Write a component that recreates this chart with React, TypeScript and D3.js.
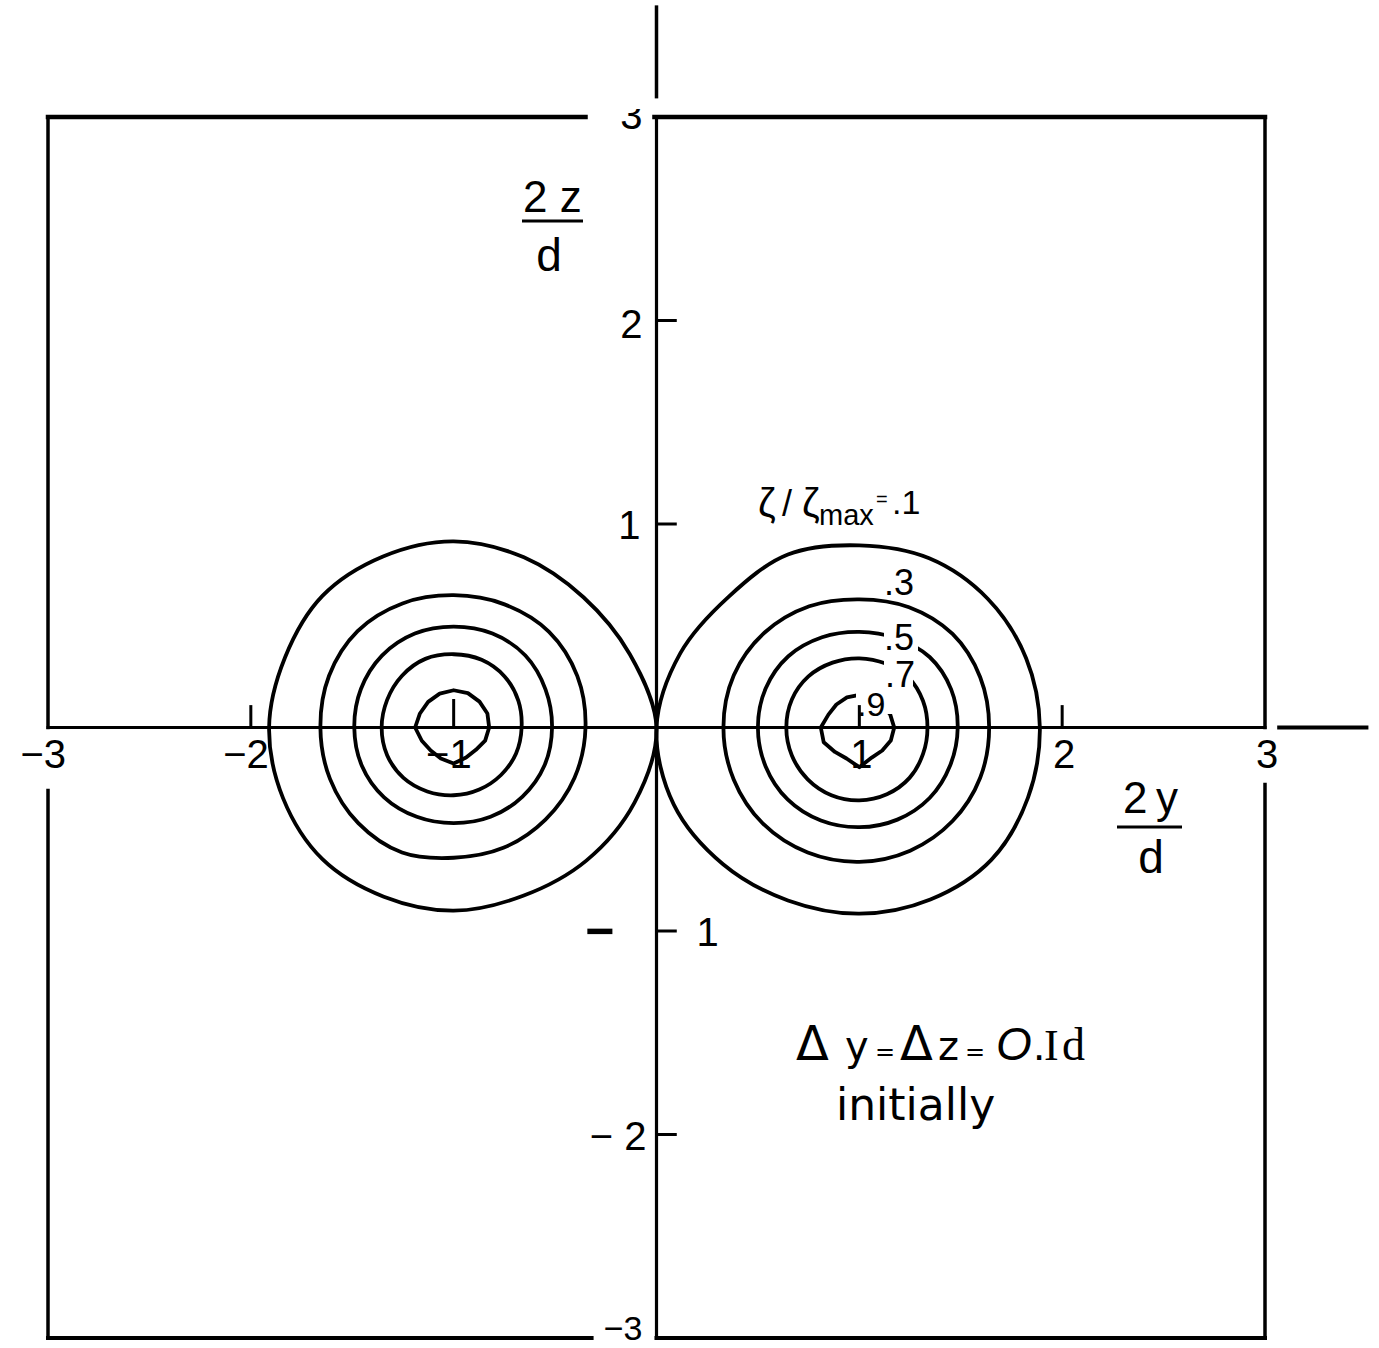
import React from "react";
import * as d3 from "d3";

const W = 1379;
const H = 1348;

// Axis tick values (2y/d along the horizontal, 2z/d along the vertical)
const yTickValues = [-3, -2, -1, 1, 2, 3];
const zTickValues = [-2, -1, 1, 2];

// Contour levels of ζ/ζmax
const contourLevels = [0.1, 0.3, 0.5, 0.7, 0.9];

// Polar sampling angles (degrees, counter-clockwise from +y)
const contourAngles = [0, 22.5, 45, 67.5, 90, 112.5, 135, 157.5, 180, 202.5, 225, 247.5, 270, 292.5, 315, 337.5];

// Vortex centres (2y/d, 2z/d)
const westCentre: [number, number] = [-1, 0];
const eastCentre: [number, number] = [1, 0];

// Contour radii (in units of d/2) around the west vortex, one list per level
const westRadii01 = [1.0, 0.94, 0.905, 0.905, 0.915, 0.91, 0.915, 0.9, 0.91, 0.91, 0.915, 0.9, 0.9, 0.895, 0.925, 0.965];
const westRadii03 = [0.65, 0.66, 0.665, 0.655, 0.65, 0.66, 0.67, 0.665, 0.657, 0.66, 0.665, 0.665, 0.64, 0.64, 0.64, 0.645];
const westRadii05 = [0.485, 0.49, 0.5, 0.5, 0.496, 0.5, 0.5, 0.495, 0.49, 0.49, 0.485, 0.475, 0.47, 0.475, 0.48, 0.485];
const westRadii07 = [0.335, 0.345, 0.355, 0.36, 0.36, 0.365, 0.36, 0.355, 0.355, 0.355, 0.35, 0.34, 0.333, 0.33, 0.33, 0.333];
const westRadii09 = [0.175, 0.18, 0.18, 0.183, 0.183, 0.18, 0.178, 0.18, 0.19, 0.17, 0.16, 0.165, 0.177, 0.16, 0.155, 0.168];

// Contour radii around the east vortex
const eastRadii01 = [0.89, 0.89, 0.895, 0.9, 0.895, 0.92, 0.91, 0.955, 1.0, 0.99, 0.95, 0.92, 0.915, 0.915, 0.92, 0.9];
const eastRadii03 = [0.64, 0.645, 0.65, 0.64, 0.63, 0.645, 0.66, 0.67, 0.67, 0.67, 0.67, 0.665, 0.66, 0.655, 0.65, 0.645];
const eastRadii05 = [0.485, 0.49, 0.49, 0.475, 0.47, 0.48, 0.495, 0.5, 0.5, 0.5, 0.5, 0.495, 0.49, 0.49, 0.49, 0.485];
const eastRadii07 = [0.336, 0.34, 0.345, 0.34, 0.34, 0.345, 0.355, 0.36, 0.36, 0.36, 0.36, 0.36, 0.358, 0.355, 0.35, 0.34];
const eastRadii09 = [0.172, 0.165, 0.16, 0.16, 0.16, 0.16, 0.16, 0.165, 0.19, 0.19, 0.17, 0.165, 0.195, 0.16, 0.16, 0.168];

const westRadii = [westRadii01, westRadii03, westRadii05, westRadii07, westRadii09];
const eastRadii = [eastRadii01, eastRadii03, eastRadii05, eastRadii07, eastRadii09];

// Level labels written beside the east vortex
const levelLabels = [".3", ".5", ".7", ".9"];

const x = d3.scaleLinear().domain([-3, 3]).range([48, 1265]);
const y = d3.scaleLinear().domain([-3, 3]).range([1338, 117]);

const FONT = "'Liberation Sans', Arial, sans-serif";
const DEJAVU = "'DejaVu Sans', sans-serif";
const SERIF = "'Liberation Serif', 'DejaVu Serif', serif";

function ring(centre: [number, number], radii: number[]): [number, number][] {
  return contourAngles.map((a, i) => {
    const t = (a * Math.PI) / 180;
    return [centre[0] + radii[i] * Math.cos(t), centre[1] + radii[i] * Math.sin(t)];
  });
}

const smoothRing = d3
  .line<[number, number]>()
  .x((d) => x(d[0]))
  .y((d) => y(d[1]))
  .curve(d3.curveCatmullRomClosed.alpha(0.5));

const angularRing = d3
  .line<[number, number]>()
  .x((d) => x(d[0]))
  .y((d) => y(d[1]))
  .curve(d3.curveLinearClosed);

function seg(x1: number, y1: number, x2: number, y2: number, w: number, key: string) {
  return (
    <line
      key={key}
      x1={x(x1)}
      y1={y(y1)}
      x2={x(x2)}
      y2={y(y2)}
      stroke="#000"
      strokeWidth={w}
      strokeLinecap="square"
    />
  );
}

export default function App() {
  const contourPaths: JSX.Element[] = [];
  contourLevels.forEach((lvl, li) => {
    const gen = lvl >= 0.9 ? angularRing : smoothRing;
    contourPaths.push(
      <path key={`w${li}`} d={gen(ring(westCentre, westRadii[li])) || ""} fill="none" stroke="#000" strokeWidth={3.8} strokeLinejoin="round" />
    );
    contourPaths.push(
      <path key={`e${li}`} d={gen(ring(eastCentre, eastRadii[li])) || ""} fill="none" stroke="#000" strokeWidth={3.8} strokeLinejoin="round" />
    );
  });

  const x0 = x(0);
  const z0 = y(0);

  return (
    <svg
      width={W}
      height={H}
      viewBox={`0 0 ${W} ${H}`}
      style={{ position: "absolute", left: 0, top: 0, display: "block", background: "#fff" }}
    >
      <defs>
        <clipPath id="topLabelClip">
          <rect x={0} y={109} width={W} height={40} />
        </clipPath>
      </defs>
      <rect x={0} y={0} width={W} height={H} fill="#fff" />

      {/* frame, broken where the corner labels sit */}
      {seg(-3, 3, -0.35, 3, 4.5, "topL")}
      {seg(-0.01, 3, 3, 3, 4.5, "topR")}
      {seg(-3, 3, -3, 0, 3.5, "leftU")}
      {seg(-3, -0.31, -3, -3, 3.5, "leftD")}
      {seg(3, 3, 3, 0, 3.5, "rightU")}
      {seg(3, -0.28, 3, -3, 3.5, "rightD")}
      {seg(-3, -3, -0.32, -3, 4, "botL")}
      {seg(0, -3, 3, -3, 4, "botR")}

      {/* axes through the origin */}
      {seg(0, 3, 0, -3, 3.2, "zAxis")}
      {seg(0, 3.1, 0, 3.54, 3.5, "zAxisExt")}
      {seg(-3, 0, 3, 0, 3, "yAxis")}
      {seg(3.07, 0, 3.5, 0, 4, "yAxisExt")}

      {/* vorticity contours */}
      {contourPaths}

      {/* breaks in the east contours around their level labels */}
      <rect x={884} y={618} width={34} height={38} fill="#fff" />
      <rect x={884} y={660} width={29} height={30} fill="#fff" />
      <rect x={856} y={681} width={38} height={33} fill="#fff" />

      {/* ticks */}
      {yTickValues
        .filter((v) => Math.abs(v) < 3)
        .map((v) => (
          <line key={`yt${v}`} x1={x(v)} x2={x(v)} y1={z0} y2={y(v === -1 ? 0.14 : 0.11)} stroke="#000" strokeWidth={3} />
        ))}
      {zTickValues.map((v) => (
        <line key={`zt${v}`} x1={x0} x2={x(0.1)} y1={y(v)} y2={y(v)} stroke="#000" strokeWidth={3} />
      ))}

      {/* horizontal tick labels */}
      {yTickValues.map((v) => (
        <text
          key={`yl${v}`}
          x={v < 0 ? x(v) + 18 : x(v) + 2}
          y={z0 + 40}
          textAnchor={v < 0 ? "end" : "middle"}
          fontFamily={FONT}
          fontSize={40}
          fill="#000"
        >
          {v < 0 ? `\u2212${Math.abs(v)}` : `${v}`}
        </text>
      ))}

      {/* vertical tick labels */}
      <text x={x0 - 14} y={y(3) + 12} textAnchor="end" fontFamily={FONT} fontSize={40} clipPath="url(#topLabelClip)">
        3
      </text>
      <text x={x0 - 14} y={y(2) + 17} textAnchor="end" fontFamily={FONT} fontSize={40}>
        2
      </text>
      <text x={x0 - 16} y={y(1) + 15} textAnchor="end" fontFamily={FONT} fontSize={40}>
        1
      </text>
      <text x={x0 - 42} y={y(-1) + 17} textAnchor="end" fontFamily={FONT} fontSize={50} fontWeight="bold">
        {"\u2212"}
      </text>
      <text x={x0 + 40} y={y(-1) + 15} textAnchor="start" fontFamily={FONT} fontSize={40}>
        1
      </text>
      <text x={x0 - 10} y={y(-2) + 15} textAnchor="end" fontFamily={FONT} fontSize={40}>
        {"\u2212 2"}
      </text>
      <text x={x0 - 14} y={y(-3) + 2} textAnchor="end" fontFamily={FONT} fontSize={34}>
        {"\u22123"}
      </text>

      {/* axis titles as fractions */}
      <text x={523} y={212} fontFamily={FONT} fontSize={44}>
        2 z
      </text>
      <line x1={522} x2={583} y1={221} y2={221} stroke="#000" strokeWidth={3} />
      <text x={549} y={271} textAnchor="middle" fontFamily={FONT} fontSize={46}>
        d
      </text>

      <text fontFamily={FONT} fontSize={44} y={813}>
        <tspan x={1123}>2</tspan>
        <tspan x={1156}>y</tspan>
      </text>
      <line x1={1117} x2={1182} y1={827} y2={827} stroke="#000" strokeWidth={3} />
      <text x={1151} y={873} textAnchor="middle" fontFamily={FONT} fontSize={46}>
        d
      </text>

      {/* level annotation */}
      <text fontFamily={FONT} fill="#000">
        <tspan x={758} y={517} fontSize={40}>ζ</tspan>
        <tspan x={782} y={516} fontSize={36}>/</tspan>
        <tspan x={802} y={517} fontSize={40}>ζ</tspan>
        <tspan x={819} y={525} fontSize={29}>max</tspan>
        <tspan x={876} y={506} fontSize={20}>=</tspan>
        <tspan x={892} y={514} fontSize={34}>.1</tspan>
      </text>

      {levelLabels.map((lab, i) => {
        const pos = [
          [884, 595],
          [884, 650],
          [885, 687],
          [857, 716],
        ][i];
        return (
          <text key={lab} x={pos[0]} y={pos[1]} fontFamily={FONT} fontSize={i === 3 ? 34 : 36} fill="#000">
            {lab}
          </text>
        );
      })}

      {/* initial-condition note */}
      <text y={1060} fill="#000">
        <tspan x={796} fontFamily={DEJAVU} fontSize={48}>Δ</tspan>
        <tspan x={845} fontFamily={DEJAVU} fontSize={40}>y</tspan>
        <tspan x={875} fontFamily={DEJAVU} fontSize={24}>=</tspan>
        <tspan x={900} fontFamily={DEJAVU} fontSize={48}>Δ</tspan>
        <tspan x={938} fontFamily={DEJAVU} fontSize={40}>z</tspan>
        <tspan x={965} fontFamily={DEJAVU} fontSize={24}>=</tspan>
        <tspan x={996} fontFamily={FONT} fontStyle="italic" fontSize={46}>O</tspan>
        <tspan x={1033} fontFamily={FONT} fontSize={44}>.</tspan>
        <tspan x={1044} fontFamily={SERIF} fontSize={44}>I</tspan>
        <tspan x={1062} fontFamily={SERIF} fontSize={46}>d</tspan>
      </text>
      <text x={836} y={1120} fontFamily={DEJAVU} fontSize={44} fill="#000">
        initially
      </text>
    </svg>
  );
}
